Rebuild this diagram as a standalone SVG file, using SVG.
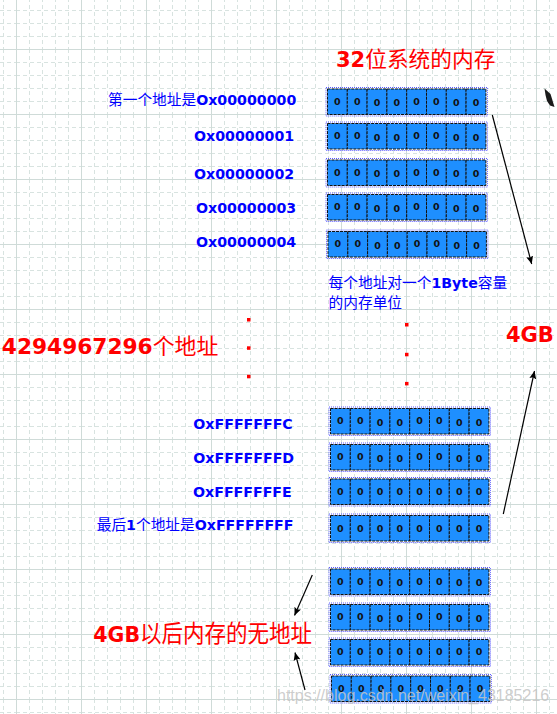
<svg xmlns="http://www.w3.org/2000/svg" width="557" height="714" viewBox="0 0 557 714">
<style>
.cell{fill:#1e8fff;stroke:#111;stroke-width:1;stroke-dasharray:3 1}
.sel{fill:none;stroke:#5a5aff;stroke-width:1;stroke-dasharray:1 1}
.z{font-family:"DejaVu Sans","Liberation Sans",sans-serif;font-size:9.5px;font-weight:bold;fill:#111;text-anchor:middle}
.lbl{font-family:"DejaVu Sans","Noto Sans CJK SC",sans-serif;fill:#0000ff}
.b{font-weight:bold;font-size:14.2px}
.cn{font-family:"Noto Sans CJK SC",sans-serif;font-weight:normal;font-size:14.7px}
.red{font-family:"DejaVu Sans","Noto Sans CJK SC",sans-serif;fill:#ff0000}
.dot{fill:#ff0000}
.conn{stroke:#000;stroke-width:1.2;fill:none;marker-end:url(#ah)}
</style>
<defs>
<pattern id="grid" patternUnits="userSpaceOnUse" x="16" y="49" width="65" height="65">
<path d="M13.5 0V65M26.5 0V65M39.5 0V65M52.5 0V65M0 13.5H65M0 26.5H65M0 39.5H65M0 52.5H65" stroke="#d8e3e0" stroke-width="1" stroke-dasharray="4 3" fill="none"/>
<path d="M0.5 0V65M0 0.5H65" stroke="#cfdbd8" stroke-width="1" fill="none"/>
</pattern>
<marker id="ah" markerUnits="userSpaceOnUse" markerWidth="8" markerHeight="7" refX="8" refY="3.5" orient="auto"><path d="M0,0 L8,3.5 L0,7 L1.5,3.5 z" fill="#000"/></marker>
</defs>
<rect width="557" height="714" fill="#ffffff"/>
<rect width="557" height="714" fill="url(#grid)"/>

<g id="title"><text class="red" x="336" y="66.7"><tspan font-weight="bold" font-size="21px">32</tspan><tspan font-family="Noto Sans CJK SC,sans-serif" font-size="21.7px">位系统的内存</tspan></text></g>

<g id="row01" transform="translate(327.5,89)">
<rect class="sel" x="-1.5" y="-1.5" width="161.4" height="28.5"/>
<rect class="cell" x="0" y="0" width="19.8" height="25.5"/><rect class="cell" x="19.8" y="0" width="19.8" height="25.5"/><rect class="cell" x="39.6" y="0" width="19.8" height="25.5"/><rect class="cell" x="59.4" y="0" width="19.8" height="25.5"/><rect class="cell" x="79.2" y="0" width="19.8" height="25.5"/><rect class="cell" x="99" y="0" width="19.8" height="25.5"/><rect class="cell" x="118.8" y="0" width="19.8" height="25.5"/><rect class="cell" x="138.6" y="0" width="19.8" height="25.5"/>
<text class="z" x="9.9" y="15.5">0</text><text class="z" x="29.7" y="15.5">0</text><text class="z" x="49.5" y="17">0</text><text class="z" x="69.3" y="17">0</text><text class="z" x="89.1" y="15.5">0</text><text class="z" x="108.9" y="15.5">0</text><text class="z" x="128.7" y="17">0</text><text class="z" x="148.5" y="17">0</text>
</g>
<g id="row02" transform="translate(327.5,123.5)">
<rect class="sel" x="-1.5" y="-1.5" width="161.4" height="28.5"/>
<rect class="cell" x="0" y="0" width="19.8" height="25.5"/><rect class="cell" x="19.8" y="0" width="19.8" height="25.5"/><rect class="cell" x="39.6" y="0" width="19.8" height="25.5"/><rect class="cell" x="59.4" y="0" width="19.8" height="25.5"/><rect class="cell" x="79.2" y="0" width="19.8" height="25.5"/><rect class="cell" x="99" y="0" width="19.8" height="25.5"/><rect class="cell" x="118.8" y="0" width="19.8" height="25.5"/><rect class="cell" x="138.6" y="0" width="19.8" height="25.5"/>
<text class="z" x="9.9" y="15.5">0</text><text class="z" x="29.7" y="15.5">0</text><text class="z" x="49.5" y="17">0</text><text class="z" x="69.3" y="17">0</text><text class="z" x="89.1" y="15.5">0</text><text class="z" x="108.9" y="15.5">0</text><text class="z" x="128.7" y="17">0</text><text class="z" x="148.5" y="17">0</text>
</g>
<g id="row03" transform="translate(327.5,160)">
<rect class="sel" x="-1.5" y="-1.5" width="161.4" height="28.5"/>
<rect class="cell" x="0" y="0" width="19.8" height="25.5"/><rect class="cell" x="19.8" y="0" width="19.8" height="25.5"/><rect class="cell" x="39.6" y="0" width="19.8" height="25.5"/><rect class="cell" x="59.4" y="0" width="19.8" height="25.5"/><rect class="cell" x="79.2" y="0" width="19.8" height="25.5"/><rect class="cell" x="99" y="0" width="19.8" height="25.5"/><rect class="cell" x="118.8" y="0" width="19.8" height="25.5"/><rect class="cell" x="138.6" y="0" width="19.8" height="25.5"/>
<text class="z" x="9.9" y="15.5">0</text><text class="z" x="29.7" y="15.5">0</text><text class="z" x="49.5" y="17">0</text><text class="z" x="69.3" y="17">0</text><text class="z" x="89.1" y="15.5">0</text><text class="z" x="108.9" y="15.5">0</text><text class="z" x="128.7" y="17">0</text><text class="z" x="148.5" y="17">0</text>
</g>
<g id="row04" transform="translate(327.5,194.5)">
<rect class="sel" x="-1.5" y="-1.5" width="161.4" height="28.5"/>
<rect class="cell" x="0" y="0" width="19.8" height="25.5"/><rect class="cell" x="19.8" y="0" width="19.8" height="25.5"/><rect class="cell" x="39.6" y="0" width="19.8" height="25.5"/><rect class="cell" x="59.4" y="0" width="19.8" height="25.5"/><rect class="cell" x="79.2" y="0" width="19.8" height="25.5"/><rect class="cell" x="99" y="0" width="19.8" height="25.5"/><rect class="cell" x="118.8" y="0" width="19.8" height="25.5"/><rect class="cell" x="138.6" y="0" width="19.8" height="25.5"/>
<text class="z" x="9.9" y="15.5">0</text><text class="z" x="29.7" y="15.5">0</text><text class="z" x="49.5" y="17">0</text><text class="z" x="69.3" y="17">0</text><text class="z" x="89.1" y="15.5">0</text><text class="z" x="108.9" y="15.5">0</text><text class="z" x="128.7" y="17">0</text><text class="z" x="148.5" y="17">0</text>
</g>
<g id="row05" transform="translate(328,231.5)">
<rect class="sel" x="-1.5" y="-1.5" width="161.4" height="28.5"/>
<rect class="cell" x="0" y="0" width="19.8" height="25.5"/><rect class="cell" x="19.8" y="0" width="19.8" height="25.5"/><rect class="cell" x="39.6" y="0" width="19.8" height="25.5"/><rect class="cell" x="59.4" y="0" width="19.8" height="25.5"/><rect class="cell" x="79.2" y="0" width="19.8" height="25.5"/><rect class="cell" x="99" y="0" width="19.8" height="25.5"/><rect class="cell" x="118.8" y="0" width="19.8" height="25.5"/><rect class="cell" x="138.6" y="0" width="19.8" height="25.5"/>
<text class="z" x="9.9" y="15.5">0</text><text class="z" x="29.7" y="15.5">0</text><text class="z" x="49.5" y="17">0</text><text class="z" x="69.3" y="17">0</text><text class="z" x="89.1" y="15.5">0</text><text class="z" x="108.9" y="15.5">0</text><text class="z" x="128.7" y="17">0</text><text class="z" x="148.5" y="17">0</text>
</g>
<g id="row06" transform="translate(330.5,408.5)">
<rect class="sel" x="-1.5" y="-1.5" width="161.4" height="28.5"/>
<rect class="cell" x="0" y="0" width="19.8" height="25.5"/><rect class="cell" x="19.8" y="0" width="19.8" height="25.5"/><rect class="cell" x="39.6" y="0" width="19.8" height="25.5"/><rect class="cell" x="59.4" y="0" width="19.8" height="25.5"/><rect class="cell" x="79.2" y="0" width="19.8" height="25.5"/><rect class="cell" x="99" y="0" width="19.8" height="25.5"/><rect class="cell" x="118.8" y="0" width="19.8" height="25.5"/><rect class="cell" x="138.6" y="0" width="19.8" height="25.5"/>
<text class="z" x="9.9" y="15.5">0</text><text class="z" x="29.7" y="15.5">0</text><text class="z" x="49.5" y="17">0</text><text class="z" x="69.3" y="17">0</text><text class="z" x="89.1" y="15.5">0</text><text class="z" x="108.9" y="15.5">0</text><text class="z" x="128.7" y="17">0</text><text class="z" x="148.5" y="17">0</text>
</g>
<g id="row07" transform="translate(330.5,444.5)">
<rect class="sel" x="-1.5" y="-1.5" width="161.4" height="28.5"/>
<rect class="cell" x="0" y="0" width="19.8" height="25.5"/><rect class="cell" x="19.8" y="0" width="19.8" height="25.5"/><rect class="cell" x="39.6" y="0" width="19.8" height="25.5"/><rect class="cell" x="59.4" y="0" width="19.8" height="25.5"/><rect class="cell" x="79.2" y="0" width="19.8" height="25.5"/><rect class="cell" x="99" y="0" width="19.8" height="25.5"/><rect class="cell" x="118.8" y="0" width="19.8" height="25.5"/><rect class="cell" x="138.6" y="0" width="19.8" height="25.5"/>
<text class="z" x="9.9" y="15.5">0</text><text class="z" x="29.7" y="15.5">0</text><text class="z" x="49.5" y="17">0</text><text class="z" x="69.3" y="17">0</text><text class="z" x="89.1" y="15.5">0</text><text class="z" x="108.9" y="15.5">0</text><text class="z" x="128.7" y="17">0</text><text class="z" x="148.5" y="17">0</text>
</g>
<g id="row08" transform="translate(330.5,479)">
<rect class="sel" x="-1.5" y="-1.5" width="161.4" height="28.5"/>
<rect class="cell" x="0" y="0" width="19.8" height="25.5"/><rect class="cell" x="19.8" y="0" width="19.8" height="25.5"/><rect class="cell" x="39.6" y="0" width="19.8" height="25.5"/><rect class="cell" x="59.4" y="0" width="19.8" height="25.5"/><rect class="cell" x="79.2" y="0" width="19.8" height="25.5"/><rect class="cell" x="99" y="0" width="19.8" height="25.5"/><rect class="cell" x="118.8" y="0" width="19.8" height="25.5"/><rect class="cell" x="138.6" y="0" width="19.8" height="25.5"/>
<text class="z" x="9.9" y="15.5">0</text><text class="z" x="29.7" y="15.5">0</text><text class="z" x="49.5" y="15.5">0</text><text class="z" x="69.3" y="15.5">0</text><text class="z" x="89.1" y="15.5">0</text><text class="z" x="108.9" y="15.5">0</text><text class="z" x="128.7" y="15.5">0</text><text class="z" x="148.5" y="15.5">0</text>
</g>
<g id="row09" transform="translate(330.5,515.5)">
<rect class="sel" x="-1.5" y="-1.5" width="161.4" height="28.5"/>
<rect class="cell" x="0" y="0" width="19.8" height="25.5"/><rect class="cell" x="19.8" y="0" width="19.8" height="25.5"/><rect class="cell" x="39.6" y="0" width="19.8" height="25.5"/><rect class="cell" x="59.4" y="0" width="19.8" height="25.5"/><rect class="cell" x="79.2" y="0" width="19.8" height="25.5"/><rect class="cell" x="99" y="0" width="19.8" height="25.5"/><rect class="cell" x="118.8" y="0" width="19.8" height="25.5"/><rect class="cell" x="138.6" y="0" width="19.8" height="25.5"/>
<text class="z" x="9.9" y="16.5">0</text><text class="z" x="29.7" y="16.5">0</text><text class="z" x="49.5" y="16.5">0</text><text class="z" x="69.3" y="16.5">0</text><text class="z" x="89.1" y="16.5">0</text><text class="z" x="108.9" y="16.5">0</text><text class="z" x="128.7" y="16.5">0</text><text class="z" x="148.5" y="16.5">0</text>
</g>
<g id="row10" transform="translate(330.5,569)">
<rect class="sel" x="-1.5" y="-1.5" width="161.4" height="28.5"/>
<rect class="cell" x="0" y="0" width="19.8" height="25.5"/><rect class="cell" x="19.8" y="0" width="19.8" height="25.5"/><rect class="cell" x="39.6" y="0" width="19.8" height="25.5"/><rect class="cell" x="59.4" y="0" width="19.8" height="25.5"/><rect class="cell" x="79.2" y="0" width="19.8" height="25.5"/><rect class="cell" x="99" y="0" width="19.8" height="25.5"/><rect class="cell" x="118.8" y="0" width="19.8" height="25.5"/><rect class="cell" x="138.6" y="0" width="19.8" height="25.5"/>
<text class="z" x="9.9" y="15.5">0</text><text class="z" x="29.7" y="15.5">0</text><text class="z" x="49.5" y="17">0</text><text class="z" x="69.3" y="17">0</text><text class="z" x="89.1" y="15.5">0</text><text class="z" x="108.9" y="15.5">0</text><text class="z" x="128.7" y="17">0</text><text class="z" x="148.5" y="17">0</text>
</g>
<g id="row11" transform="translate(330.5,604.5)">
<rect class="sel" x="-1.5" y="-1.5" width="161.4" height="28.5"/>
<rect class="cell" x="0" y="0" width="19.8" height="25.5"/><rect class="cell" x="19.8" y="0" width="19.8" height="25.5"/><rect class="cell" x="39.6" y="0" width="19.8" height="25.5"/><rect class="cell" x="59.4" y="0" width="19.8" height="25.5"/><rect class="cell" x="79.2" y="0" width="19.8" height="25.5"/><rect class="cell" x="99" y="0" width="19.8" height="25.5"/><rect class="cell" x="118.8" y="0" width="19.8" height="25.5"/><rect class="cell" x="138.6" y="0" width="19.8" height="25.5"/>
<text class="z" x="9.9" y="15.5">0</text><text class="z" x="29.7" y="15.5">0</text><text class="z" x="49.5" y="17">0</text><text class="z" x="69.3" y="17">0</text><text class="z" x="89.1" y="15.5">0</text><text class="z" x="108.9" y="15.5">0</text><text class="z" x="128.7" y="17">0</text><text class="z" x="148.5" y="17">0</text>
</g>
<g id="row12" transform="translate(330.5,639.5)">
<rect class="sel" x="-1.5" y="-1.5" width="161.4" height="28.5"/>
<rect class="cell" x="0" y="0" width="19.8" height="25.5"/><rect class="cell" x="19.8" y="0" width="19.8" height="25.5"/><rect class="cell" x="39.6" y="0" width="19.8" height="25.5"/><rect class="cell" x="59.4" y="0" width="19.8" height="25.5"/><rect class="cell" x="79.2" y="0" width="19.8" height="25.5"/><rect class="cell" x="99" y="0" width="19.8" height="25.5"/><rect class="cell" x="118.8" y="0" width="19.8" height="25.5"/><rect class="cell" x="138.6" y="0" width="19.8" height="25.5"/>
<text class="z" x="9.9" y="15.5">0</text><text class="z" x="29.7" y="15.5">0</text><text class="z" x="49.5" y="15.5">0</text><text class="z" x="69.3" y="15.5">0</text><text class="z" x="89.1" y="15.5">0</text><text class="z" x="108.9" y="15.5">0</text><text class="z" x="128.7" y="15.5">0</text><text class="z" x="148.5" y="15.5">0</text>
</g>
<g id="row13" transform="translate(331.5,676)">
<rect class="sel" x="-1.5" y="-1.5" width="161.4" height="28.5"/>
<rect class="cell" x="0" y="0" width="19.8" height="25.5"/><rect class="cell" x="19.8" y="0" width="19.8" height="25.5"/><rect class="cell" x="39.6" y="0" width="19.8" height="25.5"/><rect class="cell" x="59.4" y="0" width="19.8" height="25.5"/><rect class="cell" x="79.2" y="0" width="19.8" height="25.5"/><rect class="cell" x="99" y="0" width="19.8" height="25.5"/><rect class="cell" x="118.8" y="0" width="19.8" height="25.5"/><rect class="cell" x="138.6" y="0" width="19.8" height="25.5"/>
<text class="z" x="9.9" y="15.5">0</text><text class="z" x="29.7" y="15.5">0</text><text class="z" x="49.5" y="15.5">0</text><text class="z" x="69.3" y="15.5">0</text><text class="z" x="89.1" y="15.5">0</text><text class="z" x="108.9" y="15.5">0</text><text class="z" x="128.7" y="15.5">0</text><text class="z" x="148.5" y="15.5">0</text>
</g>

<g id="labels">
<text class="lbl" x="108" y="105"><tspan class="cn">第一个地址是</tspan><tspan class="b">Ox00000000</tspan></text>
<text class="lbl b" x="194" y="140.7">Ox00000001</text>
<text class="lbl b" x="194" y="179.3">Ox00000002</text>
<text class="lbl b" x="196" y="213.3">Ox00000003</text>
<text class="lbl b" x="196" y="247.3">Ox00000004</text>
<text class="lbl b" x="193.3" y="429">OxFFFFFFFC</text>
<text class="lbl b" x="193.3" y="462.7">OxFFFFFFFD</text>
<text class="lbl b" x="193" y="496.7">OxFFFFFFFE</text>
<text class="lbl" x="96.7" y="530"><tspan class="cn">最后</tspan><tspan class="b">1</tspan><tspan class="cn">个地址是</tspan><tspan class="b">OxFFFFFFFF</tspan></text>
<text class="lbl" x="328.6" y="288.4"><tspan class="cn" font-size="14.6px">每个地址对一个</tspan><tspan class="b" font-size="14px">1Byte</tspan><tspan class="cn" font-size="14.6px">容量</tspan></text>
<text class="lbl" x="328.6" y="308"><tspan class="cn" font-size="14.6px">的内存单位</tspan></text>
</g>

<g id="count-label"><text class="red" x="1.8" y="354"><tspan font-weight="bold" font-size="21.7px">4294967296</tspan><tspan font-family="Noto Sans CJK SC,sans-serif" font-size="21.9px">个地址</tspan></text></g>
<g id="size-label"><text class="red" x="506" y="342.4" font-weight="bold" font-size="21px">4GB</text></g>
<g id="beyond-label"><text class="red" x="93.3" y="641.7"><tspan font-weight="bold" font-size="20.5px">4GB</tspan><tspan font-family="Noto Sans CJK SC,sans-serif" font-size="24px" textLength="172" lengthAdjust="spacingAndGlyphs">以后内存的无地址</tspan></text></g>

<g id="ellipsis">
<rect class="dot" x="247" y="318" width="3.5" height="3.5"/>
<rect class="dot" x="247" y="346.3" width="3.5" height="3.5"/>
<rect class="dot" x="247" y="374.8" width="3.5" height="3.5"/>
<rect class="dot" x="405" y="323" width="3.5" height="3.5"/>
<rect class="dot" x="405" y="352.8" width="3.5" height="3.5"/>
<rect class="dot" x="405" y="381.9" width="3.5" height="3.5"/>
</g>

<g id="connectors">
<line class="conn" x1="492.3" y1="115" x2="531.7" y2="264"/>
<line class="conn" x1="503.3" y1="514" x2="534.5" y2="371"/>
<line class="conn" x1="312.3" y1="575" x2="294.5" y2="615.5"/>
<line class="conn" x1="305" y1="690" x2="295" y2="652.5"/>
</g>

<g id="cursor"><polygon points="544.5,88.5 550.5,94 554.5,107 550,105.5 547,101 545.5,95" fill="#1a1a1a"/></g>

<g id="watermark"><text x="277" y="700.7" font-family="Liberation Sans,Arial,sans-serif" font-size="16px" fill="#c4c4c4" fill-opacity="0.85">https://blog.csdn.net/weixin_43185216</text></g>
</svg>
